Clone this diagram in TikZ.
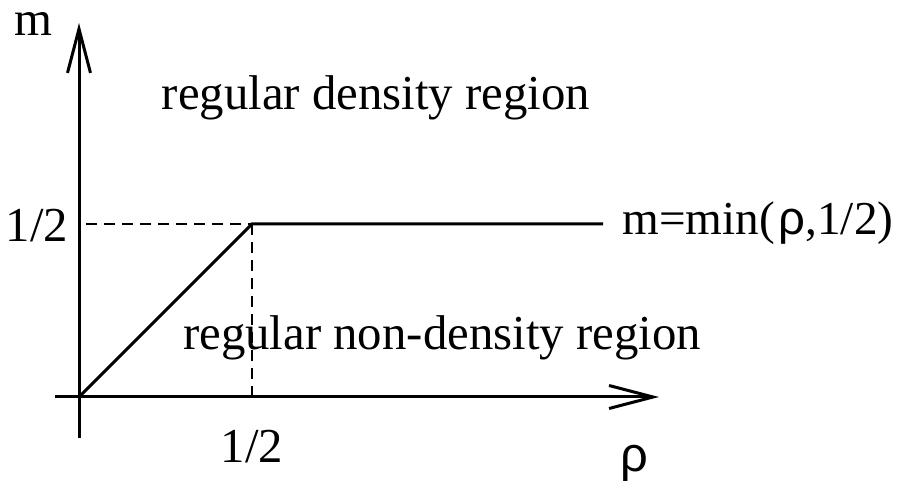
\documentclass[tikz,border=0pt]{standalone}
\usepackage{fontspec}
\setmainfont{Liberation Serif}
\newfontfamily\rhofont{Liberation Sans}
\usepackage{tikz}
\usetikzlibrary{arrows.meta}

\begin{document}
\begin{tikzpicture}[x=0.5pt,y=-0.5pt, every node/.style={font=\fontsize{24.4}{28}\selectfont,inner sep=0pt,anchor=base}, axis/.style={line width=1.5pt,-{Straight Barb[length=22pt,width=11.5pt]}}, curve/.style={line width=1.5pt}, guide/.style={line width=0.7pt,dash pattern=on 5.5pt off 3.5pt}]
\useasboundingbox (0,0) rectangle (907,481);
\coordinate (ybot) at (79,438);
\coordinate (ytop) at (79,23);
\coordinate (xleft) at (55,397);
\coordinate (xright) at (659,397);
\coordinate (orig) at (79,397);
\coordinate (knee) at (252,224);
\coordinate (kneex) at (252,397);
\coordinate (kneey) at (86,224);
\coordinate (lineend) at (603,224);
\node (mlab) at (33,36) {m};
\node (rholab) at (634,472) {\rhofont ρ};
\node (yhalf) at (37,242) {1/2};
\node (xhalf) at (252,463) {1/2};
\node (dens) at (376,110) {regular density region};
\node (nondens) at (442,350) {regular non-density region};
\node[anchor=base west,font=\fontsize{23.6}{28}\selectfont] (minlab) at (622,235) {m=min(\hspace{0.08em}\rhofont ρ\rmfamily,1/2)};
\draw[axis] (ybot)--(ytop);\draw[axis] (xleft)--(xright);
\draw[guide] (kneey)--(knee);\draw[guide] (knee)--(kneex);
\draw[curve] (orig)--(knee)--(lineend);
\end{tikzpicture}
\end{document}
